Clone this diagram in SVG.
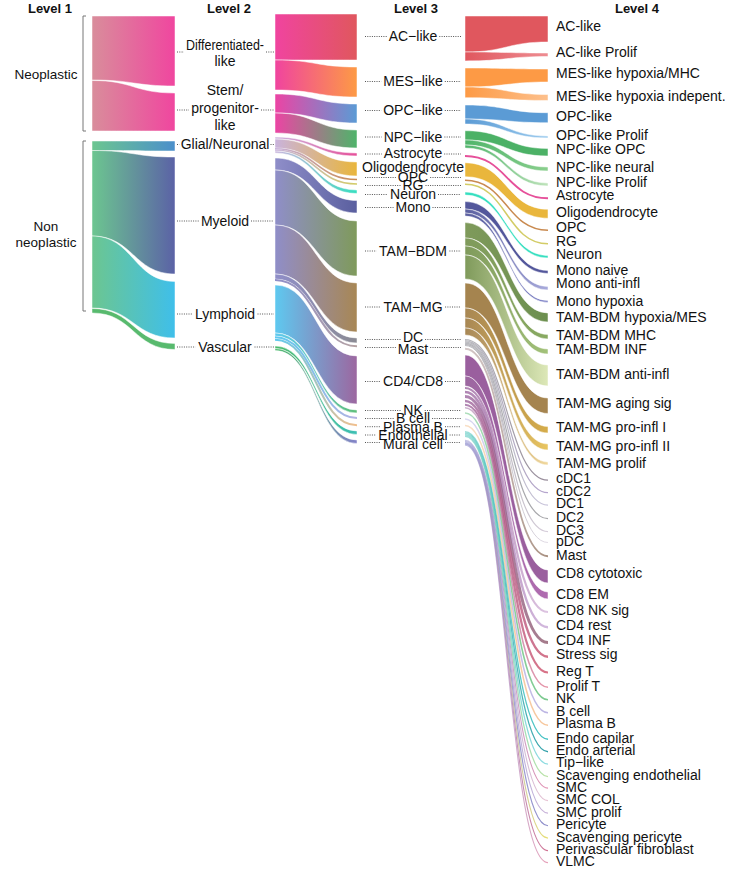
<svg xmlns="http://www.w3.org/2000/svg" width="733" height="869" viewBox="0 0 733 869">
<style>
text{font-family:"Liberation Sans",Arial,Helvetica,sans-serif;font-size:14px;fill:#111}
.hd{font-weight:bold;font-size:13px}
.l1{font-size:13.5px}
.m{text-anchor:middle}
.f{stroke:#fff;stroke-width:.5}
.s{fill:none}
.p{stroke-opacity:.8}
.ld{stroke:#555;stroke-width:1;stroke-dasharray:1 1.3;fill:none}
.br{stroke:#777;stroke-width:1;fill:none}
</style>
<defs>
<linearGradient id="gA1"><stop offset="0" stop-color="#d98d9b"/><stop offset="1" stop-color="#f0469f"/></linearGradient>
<linearGradient id="gA2"><stop offset="0" stop-color="#6cc690"/><stop offset="1" stop-color="#4b8fcb"/></linearGradient>
<linearGradient id="gA3"><stop offset="0" stop-color="#6cc690"/><stop offset="1" stop-color="#5b62a6"/></linearGradient>
<linearGradient id="gA4"><stop offset="0" stop-color="#6cc690"/><stop offset="1" stop-color="#3fbfea"/></linearGradient>
<linearGradient id="gB1"><stop offset="0" stop-color="#f0449f"/><stop offset="1" stop-color="#e0575e"/></linearGradient>
<linearGradient id="gB2"><stop offset="0" stop-color="#f0449f"/><stop offset="1" stop-color="#fd9a45"/></linearGradient>
<linearGradient id="gB3"><stop offset="0" stop-color="#ec44a4"/><stop offset="1" stop-color="#5b9bd5"/></linearGradient>
<linearGradient id="gB4"><stop offset="0" stop-color="#ec44a4"/><stop offset="1" stop-color="#4fb46a"/></linearGradient>
<linearGradient id="gB5"><stop offset="0" stop-color="#c9b3dd"/><stop offset="1" stop-color="#e6509a"/></linearGradient>
<linearGradient id="gB6"><stop offset="0" stop-color="#c9b3dd"/><stop offset="1" stop-color="#e9b63c"/></linearGradient>
<linearGradient id="gB7"><stop offset="0" stop-color="#c9b3dd"/><stop offset="1" stop-color="#c98a50"/></linearGradient>
<linearGradient id="gB8"><stop offset="0" stop-color="#c9b3dd"/><stop offset="1" stop-color="#d3cc66"/></linearGradient>
<linearGradient id="gB9"><stop offset="0" stop-color="#c9b3dd"/><stop offset="1" stop-color="#36dfc0"/></linearGradient>
<linearGradient id="gB10"><stop offset="0" stop-color="#8f8ec9"/><stop offset="1" stop-color="#5a5f9f"/></linearGradient>
<linearGradient id="gB11"><stop offset="0" stop-color="#8f8ec9"/><stop offset="1" stop-color="#7f9a5b"/></linearGradient>
<linearGradient id="gB12"><stop offset="0" stop-color="#8f8ec9"/><stop offset="1" stop-color="#a88754"/></linearGradient>
<linearGradient id="gB13"><stop offset="0" stop-color="#8f8ec9"/><stop offset="1" stop-color="#8b8b93"/></linearGradient>
<linearGradient id="gB14"><stop offset="0" stop-color="#8f8ec9"/><stop offset="1" stop-color="#b6a3a3"/></linearGradient>
<linearGradient id="gB15"><stop offset="0" stop-color="#5ec9f0"/><stop offset="1" stop-color="#9c67a0"/></linearGradient>
<linearGradient id="gB16"><stop offset="0" stop-color="#5ec9f0"/><stop offset="1" stop-color="#5fbf7a"/></linearGradient>
<linearGradient id="gB17"><stop offset="0" stop-color="#5ec9f0"/><stop offset="1" stop-color="#b5b2e2"/></linearGradient>
<linearGradient id="gB18"><stop offset="0" stop-color="#5ec9f0"/><stop offset="1" stop-color="#f3bf8c"/></linearGradient>
<linearGradient id="gB19"><stop offset="0" stop-color="#4cbb6c"/><stop offset="1" stop-color="#3dbfb5"/></linearGradient>
<linearGradient id="gB20"><stop offset="0" stop-color="#4cbb6c"/><stop offset="1" stop-color="#8482c9"/></linearGradient>
<linearGradient id="gC2"><stop offset="0" stop-color="#e0575e"/><stop offset="1" stop-color="#ee8d92"/></linearGradient>
<linearGradient id="gC4"><stop offset="0" stop-color="#fd9a45"/><stop offset="1" stop-color="#fdc08c"/></linearGradient>
<linearGradient id="gC6"><stop offset="0" stop-color="#5b9bd5"/><stop offset="1" stop-color="#9ccbee"/></linearGradient>
<linearGradient id="gC8"><stop offset="0" stop-color="#4fb46a"/><stop offset="1" stop-color="#8bcf8e"/></linearGradient>
<linearGradient id="gC9"><stop offset="0" stop-color="#4fb46a"/><stop offset="1" stop-color="#bfe3bb"/></linearGradient>
<linearGradient id="gC16"><stop offset="0" stop-color="#5a5f9f"/><stop offset="1" stop-color="#a9abdc"/></linearGradient>
<linearGradient id="gC17"><stop offset="0" stop-color="#5a5f9f"/><stop offset="1" stop-color="#8387c9"/></linearGradient>
<linearGradient id="gC18"><stop offset="0" stop-color="#7f9a5b"/><stop offset="1" stop-color="#6c8f4f"/></linearGradient>
<linearGradient id="gC19"><stop offset="0" stop-color="#7f9a5b"/><stop offset="1" stop-color="#89aa62"/></linearGradient>
<linearGradient id="gC20"><stop offset="0" stop-color="#7f9a5b"/><stop offset="1" stop-color="#a3c27a"/></linearGradient>
<linearGradient id="gC21"><stop offset="0" stop-color="#7f9a5b"/><stop offset="1" stop-color="#dde8b8"/></linearGradient>
<linearGradient id="gC23"><stop offset="0" stop-color="#a88754"/><stop offset="1" stop-color="#d6ad4a"/></linearGradient>
<linearGradient id="gC24"><stop offset="0" stop-color="#a88754"/><stop offset="1" stop-color="#e9c560"/></linearGradient>
<linearGradient id="gC25"><stop offset="0" stop-color="#a88754"/><stop offset="1" stop-color="#f1d89c"/></linearGradient>
<linearGradient id="gC26"><stop offset="0" stop-color="#8b8b93" stop-opacity=".6"/><stop offset="1" stop-color="#968a99"/></linearGradient>
<linearGradient id="gC27"><stop offset="0" stop-color="#8b8b93" stop-opacity=".6"/><stop offset="1" stop-color="#b6a5cf"/></linearGradient>
<linearGradient id="gC28"><stop offset="0" stop-color="#8b8b93" stop-opacity=".6"/><stop offset="1" stop-color="#c9c4dc"/></linearGradient>
<linearGradient id="gC29"><stop offset="0" stop-color="#8b8b93" stop-opacity=".6"/><stop offset="1" stop-color="#a5a5a8"/></linearGradient>
<linearGradient id="gC30"><stop offset="0" stop-color="#8b8b93" stop-opacity=".6"/><stop offset="1" stop-color="#d8cfdc"/></linearGradient>
<linearGradient id="gC31"><stop offset="0" stop-color="#8b8b93" stop-opacity=".6"/><stop offset="1" stop-color="#e2dce6"/></linearGradient>
<linearGradient id="gC32"><stop offset="0" stop-color="#b6a3a3" stop-opacity=".6"/><stop offset="1" stop-color="#a89080"/></linearGradient>
<linearGradient id="gC34"><stop offset="0" stop-color="#9c67a0"/><stop offset="1" stop-color="#b06bb0"/></linearGradient>
<linearGradient id="gC35"><stop offset="0" stop-color="#9c67a0"/><stop offset="1" stop-color="#d5b6da"/></linearGradient>
<linearGradient id="gC36"><stop offset="0" stop-color="#9c67a0"/><stop offset="1" stop-color="#c8a8d6"/></linearGradient>
<linearGradient id="gC37"><stop offset="0" stop-color="#9c67a0"/><stop offset="1" stop-color="#8e5a6d"/></linearGradient>
<linearGradient id="gC38"><stop offset="0" stop-color="#9c67a0"/><stop offset="1" stop-color="#c9506c"/></linearGradient>
<linearGradient id="gC39"><stop offset="0" stop-color="#9c67a0"/><stop offset="1" stop-color="#d04f68"/></linearGradient>
<linearGradient id="gC40"><stop offset="0" stop-color="#9c67a0" stop-opacity=".5"/><stop offset="1" stop-color="#e793a6"/></linearGradient>
<linearGradient id="gC41"><stop offset="0" stop-color="#5fbf7a" stop-opacity=".5"/><stop offset="1" stop-color="#7bc98e"/></linearGradient>
<linearGradient id="gC42"><stop offset="0" stop-color="#b5b2e2" stop-opacity=".5"/><stop offset="1" stop-color="#bcb5e3"/></linearGradient>
<linearGradient id="gC43"><stop offset="0" stop-color="#f3bf8c" stop-opacity=".5"/><stop offset="1" stop-color="#f6c59a"/></linearGradient>
<linearGradient id="gC44"><stop offset="0" stop-color="#3dbfb5" stop-opacity=".5"/><stop offset="1" stop-color="#3dbfc2"/></linearGradient>
<linearGradient id="gC45"><stop offset="0" stop-color="#3dbfb5" stop-opacity=".5"/><stop offset="1" stop-color="#2e9ea8"/></linearGradient>
<linearGradient id="gC46"><stop offset="0" stop-color="#3dbfb5" stop-opacity=".5"/><stop offset="1" stop-color="#8fdce2"/></linearGradient>
<linearGradient id="gC47"><stop offset="0" stop-color="#3dbfb5" stop-opacity=".5"/><stop offset="1" stop-color="#bde3a5"/></linearGradient>
<linearGradient id="gC48"><stop offset="0" stop-color="#8482c9" stop-opacity=".45"/><stop offset="1" stop-color="#e38fb0"/></linearGradient>
<linearGradient id="gC49"><stop offset="0" stop-color="#8482c9" stop-opacity=".45"/><stop offset="1" stop-color="#e8c2d2"/></linearGradient>
<linearGradient id="gC50"><stop offset="0" stop-color="#8482c9" stop-opacity=".45"/><stop offset="1" stop-color="#c8b1d8"/></linearGradient>
<linearGradient id="gC51"><stop offset="0" stop-color="#8482c9" stop-opacity=".45"/><stop offset="1" stop-color="#8b8bc8"/></linearGradient>
<linearGradient id="gC52"><stop offset="0" stop-color="#8482c9" stop-opacity=".45"/><stop offset="1" stop-color="#e8e072"/></linearGradient>
<linearGradient id="gC53"><stop offset="0" stop-color="#8482c9" stop-opacity=".45"/><stop offset="1" stop-color="#d27393"/></linearGradient>
<linearGradient id="gC54"><stop offset="0" stop-color="#8482c9" stop-opacity=".45"/><stop offset="1" stop-color="#e8a2ba"/></linearGradient>
</defs>
<rect width="733" height="869" fill="#fff"/>
<g id="flows">
<g id="band-1-2">
<path class="f" fill="url(#gA1)" d="M92 16C133.5 16 133.5 16 175 16L175 86C133.5 86 133.5 80 92 80Z"/>
<path class="f" fill="url(#gA1)" d="M92 80.5C133.5 80.5 133.5 93 175 93L175 131C133.5 131 133.5 131 92 131Z"/>
<path class="f" fill="url(#gA2)" d="M92 141C133.5 141 133.5 141 175 141L175 151C133.5 151 133.5 150.5 92 150.5Z"/>
<path class="f" fill="url(#gA3)" d="M92 150.5C133.5 150.5 133.5 157 175 157L175 274C133.5 274 133.5 236 92 236Z"/>
<path class="f" fill="url(#gA4)" d="M92 236C133.5 236 133.5 281.5 175 281.5L175 338C133.5 338 133.5 308 92 308Z"/>
<path class="f" fill="#58ba6e" d="M92 308.5C133.5 308.5 133.5 343.5 175 343.5L175 349.5C133.5 349.5 133.5 313 92 313Z"/>
</g>
<g id="band-2-3">
<path class="f" fill="url(#gB1)" d="M275 14C316 14 316 14 357 14L357 60C316 60 316 60 275 60Z"/>
<path class="f" fill="url(#gB2)" d="M275 60C316 60 316 67 357 67L357 97C316 97 316 90 275 90Z"/>
<path class="f" fill="url(#gB3)" d="M275 94C316 94 316 104 357 104L357 123C316 123 316 113 275 113Z"/>
<path class="f" fill="url(#gB4)" d="M275 113C316 113 316 130 357 130L357 148C316 148 316 133 275 133Z"/>
<path class="f" fill="url(#gB5)" d="M275 137C316 137 316 153 357 153L357 156C316 156 316 139 275 139Z"/>
<path class="f" fill="url(#gB6)" d="M275 139C316 139 316 162 357 162L357 176C316 176 316 148 275 148Z"/>
<path class="s" stroke="url(#gB7)" stroke-width="1.7" d="M275 148.75C316 148.75 316 179.5 357 179.5"/>
<path class="s" stroke="url(#gB8)" stroke-width="1.7" d="M275 150.25C316 150.25 316 184 357 184"/>
<path class="f" fill="url(#gB9)" d="M275 151C316 151 316 190 357 190L357 193.5C316 193.5 316 153 275 153Z"/>
<path class="f" fill="url(#gB10)" d="M275 158C316 158 316 200.5 357 200.5L357 213C316 213 316 170 275 170Z"/>
<path class="f" fill="url(#gB11)" d="M275 170C316 170 316 221 357 221L357 276C316 276 316 225 275 225Z"/>
<path class="f" fill="url(#gB12)" d="M275 225C316 225 316 283 357 283L357 332C316 332 316 274 275 274Z"/>
<path class="f" fill="url(#gB13)" d="M275 274C316 274 316 338 357 338L357 343C316 343 316 279 275 279Z"/>
<path class="s" stroke="url(#gB14)" stroke-width="2" d="M275 280C316 280 316 346.25 357 346.25"/>
<path class="f" fill="url(#gB15)" d="M275 285C316 285 316 356 357 356L357 404C316 404 316 333 275 333Z"/>
<path class="f" fill="url(#gB16)" d="M275 333C316 333 316 410 357 410L357 413C316 413 316 336 275 336Z"/>
<path class="s" stroke="url(#gB17)" stroke-width="2" d="M275 337.25C316 337.25 316 418 357 418"/>
<path class="s" stroke="url(#gB18)" stroke-width="2" d="M275 339.75C316 339.75 316 425.25 357 425.25"/>
<path class="f" fill="url(#gB19)" d="M275 346C316 346 316 431 357 431L357 434.5C316 434.5 316 348.5 275 348.5Z"/>
<path class="f" fill="url(#gB20)" d="M275 348.5C316 348.5 316 440 357 440L357 443.5C316 443.5 316 350.5 275 350.5Z"/>
</g>
<g id="band-3-4">
<path class="f" fill="#e0575e" d="M465 16C506.5 16 506.5 16 548 16L548 42C506.5 42 506.5 52 465 52Z"/>
<path class="f" fill="url(#gC2)" d="M465 52C506.5 52 506.5 53 548 53L548 56.5C506.5 56.5 506.5 61 465 61Z"/>
<path class="f" fill="#fd9a45" d="M465 68C506.5 68 506.5 69 548 69L548 82C506.5 82 506.5 87 465 87Z"/>
<path class="f" fill="url(#gC4)" d="M465 87C506.5 87 506.5 94.5 548 94.5L548 100.5C506.5 100.5 506.5 97.7 465 97.7Z"/>
<path class="f" fill="#5b9bd5" d="M465 105C506.5 105 506.5 112.7 548 112.7L548 122.7C506.5 122.7 506.5 119 465 119Z"/>
<path class="f" fill="url(#gC6)" d="M465 119C506.5 119 506.5 136 548 136L548 138C506.5 138 506.5 124 465 124Z"/>
<path class="f" fill="#4cb166" d="M465 130.7C506.5 130.7 506.5 148.5 548 148.5L548 156C506.5 156 506.5 140 465 140Z"/>
<path class="f" fill="url(#gC8)" d="M465 140C506.5 140 506.5 167 548 167L548 171C506.5 171 506.5 145 465 145Z"/>
<path class="f" fill="url(#gC9)" d="M465 145C506.5 145 506.5 183 548 183L548 186C506.5 186 506.5 148 465 148Z"/>
<path class="s" stroke="#e6509a" stroke-width="1.8" d="M465 156C506.5 156 506.5 198.25 548 198.25"/>
<path class="f" fill="#e9b63c" d="M465 162.7C506.5 162.7 506.5 209.3 548 209.3L548 218.3C506.5 218.3 506.5 176.7 465 176.7Z"/>
<path class="s" stroke="#c98a50" stroke-width="1.5" d="M465 180.25C506.5 180.25 506.5 230.25 548 230.25"/>
<path class="s" stroke="#d3cc66" stroke-width="1.5" d="M465 184.25C506.5 184.25 506.5 243.75 548 243.75"/>
<path class="f" fill="#36dfc0" d="M465 192C506.5 192 506.5 255.5 548 255.5L548 258C506.5 258 506.5 195 465 195Z"/>
<path class="f" fill="#53579b" d="M465 201.5C506.5 201.5 506.5 270.5 548 270.5L548 273.5C506.5 273.5 506.5 209 465 209Z"/>
<path class="f" fill="url(#gC16)" d="M465 209C506.5 209 506.5 286.5 548 286.5L548 290C506.5 290 506.5 213 465 213Z"/>
<path class="f" fill="url(#gC17)" d="M465 213C506.5 213 506.5 300.5 548 300.5L548 302.5C506.5 302.5 506.5 216 465 216Z"/>
<path class="f" fill="url(#gC18)" d="M465 222.5C506.5 222.5 506.5 313 548 313L548 322C506.5 322 506.5 238 465 238Z"/>
<path class="f" fill="url(#gC19)" d="M465 238C506.5 238 506.5 334.5 548 334.5L548 339C506.5 339 506.5 246 465 246Z"/>
<path class="f" fill="url(#gC20)" d="M465 246C506.5 246 506.5 349 548 349L548 354C506.5 354 506.5 255 465 255Z"/>
<path class="f" fill="url(#gC21)" d="M465 255C506.5 255 506.5 365 548 365L548 386C506.5 386 506.5 279 465 279Z"/>
<path class="f" fill="#a5844f" d="M465 283C506.5 283 506.5 398 548 398L548 413.5C506.5 413.5 506.5 308 465 308Z"/>
<path class="f" fill="url(#gC23)" d="M465 308C506.5 308 506.5 426.5 548 426.5L548 433C506.5 433 506.5 318 465 318Z"/>
<path class="f" fill="url(#gC24)" d="M465 318C506.5 318 506.5 444 548 444L548 450C506.5 450 506.5 328 465 328Z"/>
<path class="f" fill="url(#gC25)" d="M465 328C506.5 328 506.5 462 548 462L548 465C506.5 465 506.5 335 465 335Z"/>
<path class="s" stroke="url(#gC26)" stroke-width="1.2" d="M465 339.6C506.5 339.6 506.5 480.1 548 480.1"/>
<path class="s" stroke="url(#gC27)" stroke-width="1.2" d="M465 340.8C506.5 340.8 506.5 492.7 548 492.7"/>
<path class="s" stroke="url(#gC28)" stroke-width="1.2" d="M465 342C506.5 342 506.5 505.1 548 505.1"/>
<path class="s" stroke="url(#gC29)" stroke-width="1.2" d="M465 343.2C506.5 343.2 506.5 518.6 548 518.6"/>
<path class="s" stroke="url(#gC30)" stroke-width="1.2" d="M465 344.4C506.5 344.4 506.5 531.6 548 531.6"/>
<path class="s" stroke="url(#gC31)" stroke-width="1" d="M465 345.5C506.5 345.5 506.5 542.5 548 542.5"/>
<path class="s" stroke="url(#gC32)" stroke-width="1.8" d="M465 348.75C506.5 348.75 506.5 556.25 548 556.25"/>
<path class="f" fill="#9a5f9e" d="M465 355C506.5 355 506.5 570 548 570L548 583C506.5 583 506.5 376 465 376Z"/>
<path class="f" fill="url(#gC34)" d="M465 376C506.5 376 506.5 592 548 592L548 599C506.5 599 506.5 386 465 386Z"/>
<path class="s p" stroke="url(#gC35)" stroke-width="2.2" d="M465 388C506.5 388 506.5 612 548 612"/>
<path class="s p" stroke="url(#gC36)" stroke-width="2.4" d="M465 392C506.5 392 506.5 627.25 548 627.25"/>
<path class="s p" stroke="url(#gC37)" stroke-width="3" d="M465 396.5C506.5 396.5 506.5 642.5 548 642.5"/>
<path class="s p" stroke="url(#gC38)" stroke-width="2.5" d="M465 401C506.5 401 506.5 656.75 548 656.75"/>
<path class="s p" stroke="url(#gC39)" stroke-width="2.2" d="M465 404.75C506.5 404.75 506.5 672.5 548 672.5"/>
<path class="s" stroke="url(#gC40)" stroke-width="1.6" d="M465 407.75C506.5 407.75 506.5 687.25 548 687.25"/>
<path class="s" stroke="url(#gC41)" stroke-width="1.6" d="M465 413C506.5 413 506.5 699.75 548 699.75"/>
<path class="s" stroke="url(#gC42)" stroke-width="1.6" d="M465 419C506.5 419 506.5 712.75 548 712.75"/>
<path class="s" stroke="url(#gC43)" stroke-width="1.6" d="M465 425.5C506.5 425.5 506.5 725.25 548 725.25"/>
<path class="s" stroke="url(#gC44)" stroke-width="1.3" d="M465 431.75C506.5 431.75 506.5 739.25 548 739.25"/>
<path class="s" stroke="url(#gC45)" stroke-width="1.3" d="M465 433.25C506.5 433.25 506.5 751.75 548 751.75"/>
<path class="s" stroke="url(#gC46)" stroke-width="1.3" d="M465 434.75C506.5 434.75 506.5 764.1 548 764.1"/>
<path class="s" stroke="url(#gC47)" stroke-width="1.3" d="M465 436.25C506.5 436.25 506.5 776.6 548 776.6"/>
<path class="s" stroke="url(#gC48)" stroke-width="1.1" d="M465 440.4C506.5 440.4 506.5 788.1 548 788.1"/>
<path class="s" stroke="url(#gC49)" stroke-width="1.1" d="M465 441.2C506.5 441.2 506.5 800.6 548 800.6"/>
<path class="s" stroke="url(#gC50)" stroke-width="1.1" d="M465 442C506.5 442 506.5 813.1 548 813.1"/>
<path class="s" stroke="url(#gC51)" stroke-width="1.2" d="M465 442.8C506.5 442.8 506.5 825.75 548 825.75"/>
<path class="s" stroke="url(#gC52)" stroke-width="1.1" d="M465 443.6C506.5 443.6 506.5 838.1 548 838.1"/>
<path class="s" stroke="url(#gC53)" stroke-width="1.1" d="M465 444.4C506.5 444.4 506.5 850.6 548 850.6"/>
<path class="s" stroke="url(#gC54)" stroke-width="1.1" d="M465 445.2C506.5 445.2 506.5 862.6 548 862.6"/>
</g>
</g>
<g id="headers">
<text class="hd m" x="50" y="12.5">Level 1</text>
<text class="hd m" x="229" y="12.5">Level 2</text>
<text class="hd m" x="416" y="12.5">Level 3</text>
<text class="hd m" x="637" y="12.5">Level 4</text>
</g>
<g id="l1-neoplastic"><path class="br" d="M86 16H83V131H86"/><text class="l1 m" x="46" y="79">Neoplastic</text></g>
<g id="l1-non-neoplastic"><path class="br" d="M86 141H83V311H86"/><text class="l1 m" x="46" y="231">Non</text><text class="l1 m" x="46" y="247">neoplastic</text></g>
<g id="l2-differentiated"><path class="ld" d="M177 52H184M266 52H274"/><text class="m" x="225" y="50" textLength="78" lengthAdjust="spacingAndGlyphs">Differentiated-</text><text class="m" x="225" y="66">like</text></g>
<g id="l2-stem"><path class="ld" d="M177 110H189M261 110H274"/><text class="m" x="225" y="95">Stem/</text><text class="m" x="225" y="112.5">progenitor-</text><text class="m" x="225" y="129.5">like</text></g>
<g id="l2-glial"><path class="ld" d="M177 144.5H179.5M270.5 144.5H274"/><text class="m" x="225" y="149.3">Glial/Neuronal</text></g>
<g id="l2-myeloid"><path class="ld" d="M177 221H199M251 221H274"/><text class="m" x="225" y="225.7">Myeloid</text></g>
<g id="l2-lymphoid"><path class="ld" d="M177 314H192.5M257.5 314H274"/><text class="m" x="225" y="318.7">Lymphoid</text></g>
<g id="l2-vascular"><path class="ld" d="M177 347H195.5M254.5 347H274"/><text class="m" x="225" y="351.7">Vascular</text></g>
<g id="l3-ac-like"><path class="ld" d="M365 36.5H386.7M439.3 36.5H461"/><text class="m" x="413" y="41">AC−like</text></g>
<g id="l3-mes-like"><path class="ld" d="M365 81.5H381.2M444.8 81.5H461"/><text class="m" x="413" y="86">MES−like</text></g>
<g id="l3-opc-like"><path class="ld" d="M365 110.5H381.2M444.8 110.5H461"/><text class="m" x="413" y="115">OPC−like</text></g>
<g id="l3-npc-like"><path class="ld" d="M365 137H381.6M444.4 137H461"/><text class="m" x="413" y="141.7">NPC−like</text></g>
<g id="l3-astrocyte"><path class="ld" d="M365 154H381.8M444.2 154H461"/><text class="m" x="413" y="158.3">Astrocyte</text></g>
<g id="l3-oligodendrocyte"><text class="m" x="413" y="171.7">Oligodendrocyte</text></g>
<g id="l3-opc"><path class="ld" d="M365 177.5H395.8M430.2 177.5H461"/><text class="m" x="413" y="181.7">OPC</text></g>
<g id="l3-rg"><path class="ld" d="M365 185.5H400.5M425.5 185.5H461"/><text class="m" x="413" y="190">RG</text></g>
<g id="l3-neuron"><path class="ld" d="M365 194.5H388M438 194.5H461"/><text class="m" x="413" y="199.3">Neuron</text></g>
<g id="l3-mono"><path class="ld" d="M365 207.5H393.5M432.5 207.5H461"/><text class="m" x="413" y="212.3">Mono</text></g>
<g id="l3-tam-bdm"><path class="ld" d="M365 251H376.6M449.4 251H461"/><text class="m" x="413" y="255.7">TAM−BDM</text></g>
<g id="l3-tam-mg"><path class="ld" d="M365 307H380.9M445.1 307H461"/><text class="m" x="413" y="311.7">TAM−MG</text></g>
<g id="l3-dc"><path class="ld" d="M365 339.5H400.9M425.1 339.5H461"/><text class="m" x="413" y="341.7">DC</text></g>
<g id="l3-mast"><path class="ld" d="M365 347.5H395.8M430.2 347.5H461"/><text class="m" x="413" y="354">Mast</text></g>
<g id="l3-cd4cd8"><path class="ld" d="M365 381.5H381M445 381.5H461"/><text class="m" x="413" y="386">CD4/CD8</text></g>
<g id="l3-nk"><path class="ld" d="M365 410.5H401.3M424.7 410.5H461"/><text class="m" x="413" y="415">NK</text></g>
<g id="l3-bcell"><path class="ld" d="M365 418.5H393.9M432.1 418.5H461"/><text class="m" x="413" y="423.3">B cell</text></g>
<g id="l3-plasmab"><path class="ld" d="M365 426.7H381M445 426.7H461"/><text class="m" x="413" y="431.7">Plasma B</text></g>
<g id="l3-endothelial"><path class="ld" d="M365 435H376.4M449.6 435H461"/><text class="m" x="413" y="440">Endothelial</text></g>
<g id="l3-mural"><path class="ld" d="M365 442.5H381M445 442.5H461"/><text class="m" x="413" y="449.3">Mural cell</text></g>
<g id="l4-labels">
<g id="l4-1"><text x="556" y="31">AC-like</text></g>
<g id="l4-2"><text x="556" y="57.3">AC-like Prolif</text></g>
<g id="l4-3"><text x="556" y="78.3">MES-like hypoxia/MHC</text></g>
<g id="l4-4"><text x="556" y="100.7">MES-like hypoxia indepent.</text></g>
<g id="l4-5"><text x="556" y="120.7">OPC-like</text></g>
<g id="l4-6"><text x="556" y="140">OPC-like Prolif</text></g>
<g id="l4-7"><text x="556" y="154">NPC-like OPC</text></g>
<g id="l4-8"><text x="556" y="171.7">NPC-like neural</text></g>
<g id="l4-9"><text x="556" y="187.3">NPC-like Prolif</text></g>
<g id="l4-10"><text x="556" y="200">Astrocyte</text></g>
<g id="l4-11"><text x="556" y="216.7">Oligodendrocyte</text></g>
<g id="l4-12"><text x="556" y="232">OPC</text></g>
<g id="l4-13"><text x="556" y="246">RG</text></g>
<g id="l4-14"><text x="556" y="259.3">Neuron</text></g>
<g id="l4-15"><text x="556" y="275">Mono naive</text></g>
<g id="l4-16"><text x="556" y="288.3">Mono anti-infl</text></g>
<g id="l4-17"><text x="556" y="305.7">Mono hypoxia</text></g>
<g id="l4-18"><text x="556" y="321.7">TAM-BDM hypoxia/MES</text></g>
<g id="l4-19"><text x="556" y="340">TAM-BDM MHC</text></g>
<g id="l4-20"><text x="556" y="354.3">TAM-BDM INF</text></g>
<g id="l4-21"><text x="556" y="379.3">TAM-BDM anti-infl</text></g>
<g id="l4-22"><text x="556" y="408.3">TAM-MG aging sig</text></g>
<g id="l4-23"><text x="556" y="432.3">TAM-MG pro-infl I</text></g>
<g id="l4-24"><text x="556" y="450.7">TAM-MG pro-infl II</text></g>
<g id="l4-25"><text x="556" y="468">TAM-MG prolif</text></g>
<g id="l4-26"><text x="556" y="483.3">cDC1</text></g>
<g id="l4-27"><text x="556" y="496">cDC2</text></g>
<g id="l4-28"><text x="556" y="508.3">DC1</text></g>
<g id="l4-29"><text x="556" y="521.7">DC2</text></g>
<g id="l4-30"><text x="556" y="535">DC3</text></g>
<g id="l4-31"><text x="556" y="546">pDC</text></g>
<g id="l4-32"><text x="556" y="560">Mast</text></g>
<g id="l4-33"><text x="556" y="578.3">CD8 cytotoxic</text></g>
<g id="l4-34"><text x="556" y="599.3">CD8 EM</text></g>
<g id="l4-35"><text x="556" y="615">CD8 NK sig</text></g>
<g id="l4-36"><text x="556" y="630">CD4 rest</text></g>
<g id="l4-37"><text x="556" y="645">CD4 INF</text></g>
<g id="l4-38"><text x="556" y="659.3">Stress sig</text></g>
<g id="l4-39"><text x="556" y="676">Reg T</text></g>
<g id="l4-40"><text x="556" y="690.7">Prolif T</text></g>
<g id="l4-41"><text x="556" y="702.7">NK</text></g>
<g id="l4-42"><text x="556" y="716">B cell</text></g>
<g id="l4-43"><text x="556" y="728.3">Plasma B</text></g>
<g id="l4-44"><text x="556" y="742.7">Endo capilar</text></g>
<g id="l4-45"><text x="556" y="755">Endo arterial</text></g>
<g id="l4-46"><text x="556" y="767.3">Tip−like</text></g>
<g id="l4-47"><text x="556" y="780">Scavenging endothelial</text></g>
<g id="l4-48"><text x="556" y="791.7">SMC</text></g>
<g id="l4-49"><text x="556" y="804">SMC COL</text></g>
<g id="l4-50"><text x="556" y="816.7">SMC prolif</text></g>
<g id="l4-51"><text x="556" y="829">Pericyte</text></g>
<g id="l4-52"><text x="556" y="841.7">Scavenging pericyte</text></g>
<g id="l4-53"><text x="556" y="854">Perivascular fibroblast</text></g>
<g id="l4-54"><text x="556" y="866">VLMC</text></g>
</g>
</svg>
